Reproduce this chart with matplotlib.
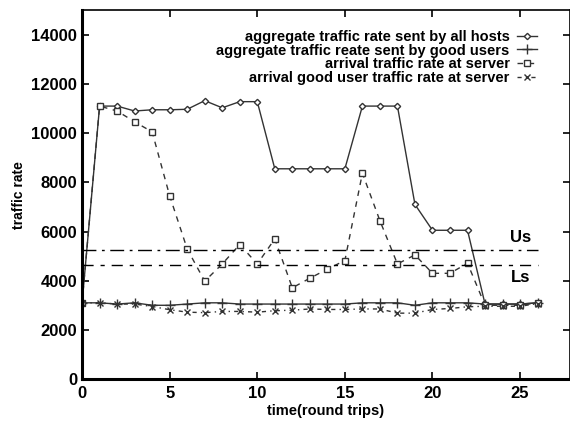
import matplotlib
matplotlib.use('Agg')
import matplotlib.pyplot as plt

plt.rcParams['font.family'] = ['Liberation Sans', 'DejaVu Sans']
plt.rcParams['font.weight'] = 'bold'

# round trips
t = list(range(27))

# aggregate traffic rate sent by all hosts
all_hosts = [3100, 11100, 11100, 10900, 10950, 10950, 10970, 11320, 11030, 11280, 11280,
             8550, 8550, 8550, 8550, 8550, 11100, 11100, 11100, 7100, 6050, 6050, 6050,
             3050, 3050, 3050, 3100]
# aggregate traffic rate sent by good users
good_sent = [3100, 3100, 3050, 3100, 3000, 3000, 3050, 3100, 3100, 3050, 3050, 3050, 3050,
             3050, 3050, 3050, 3100, 3100, 3100, 3000, 3100, 3100, 3100, 3050, 3050, 3050, 3100]
# arrival traffic rate at server
arrival = [3100, 11100, 10900, 10460, 10050, 7450, 5290, 3980, 4680, 5470, 4680, 5700, 3710,
           4100, 4470, 4820, 8370, 6440, 4680, 5050, 4300, 4300, 4710, 3000, 3000, 3000, 3100]
# arrival good user traffic rate at server
arrival_good = [3100, 3100, 3050, 3050, 2950, 2820, 2720, 2700, 2750, 2750, 2720, 2780, 2800,
                2850, 2830, 2830, 2850, 2850, 2680, 2680, 2830, 2870, 2940, 2960, 2960, 2960, 3070]

Us = 5250
Ls = 4650

fig = plt.figure(figsize=(5.7, 4.24), dpi=100)
ax = fig.add_axes([0.144, 0.106, 0.856, 0.870])

c = '#333333'
ax.plot(t, all_hosts, '-', color=c, lw=1.0, marker='D', ms=3.2, mfc='white', mec=c, mew=1.0,
        label='aggregate traffic rate sent by all hosts')
ax.plot(t, good_sent, '-', color=c, lw=1.0, marker='+', ms=7, mew=1.0,
        label='aggregate traffic reate sent by good users')
ax.plot(t, arrival, '--', color=c, lw=1.0, marker='s', ms=5, mfc='white', mec=c, mew=1.0,
        dashes=(4, 4), label='arrival traffic rate at server')
ax.plot(t, arrival_good, '-.', color=c, lw=1.0, marker='x', ms=5, mew=1.0,
        dashes=(3, 3, 1, 3), label='arrival good user traffic rate at server')

ax.plot([0, 26], [Us, Us], color='black', lw=1.0, dashes=(10, 4, 2, 4))
ax.plot([0, 26], [Ls, Ls], color='black', lw=1.0, dashes=(8, 5, 3, 5))
ax.text(24.4, 5750, 'Us', fontsize=12, fontweight='bold', va='center')
ax.text(24.5, 4130, 'Ls', fontsize=12, fontweight='bold', va='center')

ax.set_xlim(0, 27.85)
ax.set_ylim(0, 15000)
ax.set_xticks([0, 5, 10, 15, 20, 25])
ax.set_yticks(range(0, 14001, 2000))
ax.tick_params(direction='in', length=5, width=1.2, top=True, right=True, labelsize=12)
ax.tick_params(axis='x', pad=5)
for s in ax.spines.values():
    s.set_linewidth(1.2)
ax.spines['left'].set_linewidth(2.2)
ax.spines['bottom'].set_linewidth(2.2)
ax.set_xlabel('time(round trips)', fontsize=10.5, fontweight='bold', labelpad=2)
ax.set_ylabel('traffic rate', fontsize=10, fontweight='bold', labelpad=4)

leg = ax.legend(loc='upper right', bbox_to_anchor=(0.945, 0.962), frameon=False, fontsize=10.5,
                markerfirst=False, handlelength=1.4, handletextpad=0.5, labelspacing=-0.03,
                borderaxespad=0)
vp = leg._legend_box._children[-1]._children[0]
vp.align = 'right'

fig.savefig('out.png', dpi=100)
